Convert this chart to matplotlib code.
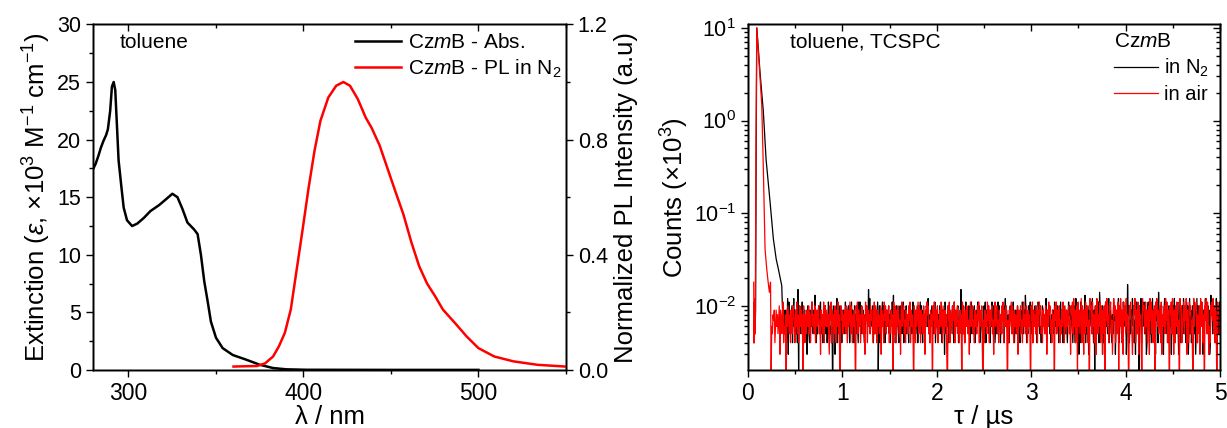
import numpy as np
import matplotlib.pyplot as plt
from matplotlib.ticker import MultipleLocator, LogLocator, NullFormatter

plt.rcParams['font.family'] = ['Liberation Sans', 'DejaVu Sans']
plt.rcParams['mathtext.fontset'] = 'custom'
plt.rcParams['mathtext.rm'] = 'Liberation Sans'
plt.rcParams['mathtext.it'] = 'Liberation Sans:italic'
plt.rcParams['mathtext.sf'] = 'Liberation Sans'

# absorption (epsilon, x10^3 M-1 cm-1)
abs_wl = [279.3, 281.5, 283.1, 284.5, 286, 287.5, 288.5, 289.8, 290.8, 291.8, 292.7, 293.7, 294.6,
          296.2, 297.5, 299.4, 302.3, 305.2, 309, 312.8, 317.6, 321.5, 325.3, 328.2, 331, 333.9,
          337.7, 339.7, 341.6, 343.5, 345.4, 347.3, 350.2, 354, 359.8, 367.4, 375.1, 382.8,
          390.4, 402, 450, 500]
abs_eps = [17.2, 17.9, 18.6, 19.3, 19.9, 20.4, 20.9, 22.5, 24.6, 25.0, 24.3, 21.1, 18.2,
           15.9, 14.1, 13.0, 12.5, 12.7, 13.2, 13.8, 14.3, 14.8, 15.3, 15.0, 14.0, 12.8,
           12.2, 11.8, 10.0, 7.7, 6.0, 4.2, 2.8, 1.9, 1.3, 0.9, 0.46, 0.17,
           0.06, 0.02, 0.01, 0.01]

# photoluminescence in N2 (normalized)
pl_wl = [360.2, 373.7, 378.2, 382.8, 386.1, 389.5, 392.9, 396.3, 399.7, 403, 406.4, 409.8, 414.3,
         418.8, 422.9, 426.7, 431.2, 435.7, 439.1, 443.6, 448.1, 452.6, 457.2, 461.7, 466.2,
         470.7, 475.2, 479.7, 486.5, 493.2, 500, 509, 520, 533.8, 549.6]
pl_int = [0.012, 0.014, 0.023, 0.047, 0.082, 0.129, 0.21, 0.35, 0.49, 0.63, 0.76, 0.865, 0.946,
          0.987, 1.0, 0.987, 0.94, 0.876, 0.84, 0.78, 0.70, 0.62, 0.54, 0.444, 0.36,
          0.30, 0.257, 0.21, 0.164, 0.117, 0.076, 0.047, 0.03, 0.018, 0.012]

# TCSPC decays (counts x10^3): rise + decay part
n2_t = [0.064, 0.068, 0.075, 0.082, 0.088, 0.095, 0.13, 0.164, 0.193, 0.235, 0.27, 0.30, 0.323, 0.359]
n2_c = [0.004, 0.011, 0.005, 0.009, 0.5, 10.0, 3.2, 1.25, 0.38, 0.133, 0.053, 0.032, 0.025, 0.0165]
air_t = [0.062, 0.066, 0.072, 0.078, 0.085, 0.094, 0.12, 0.147, 0.164, 0.182, 0.2, 0.215, 0.228]
air_c = [0.018, 0.004, 0.012, 0.005, 0.3, 10.0, 4.0, 1.48, 0.305, 0.041, 0.025, 0.018, 0.014]

# background counts (one base-36 character per bin)
n2_tail = (
    "7a589647c3b6857a48c697584f2a7958b64795683a754986b7596d84657a"
    "79b5864798a5746b9856471a98357c4896a57486957b6859a7468b5974a6"
    "85964b7b8a5796485a976f8c5976a4857968b26a4859b7a6485976a58496"
    "b7d5846a97548a6957b4896a58749a6857b469857a4968b5a7496857a96c"
    "58476a9857b4697586a58749693b7586a497568a94b75869a4758f69a574"
    "8b6975a847b5968a47596b8a4579615a7b4968a57496b85a746958b7a648"
    "597a48c6975846a7958b647956a8754986b7596d8465a79b5864798a5746"
    "b985647a98657c4896a57486957b6859a7468b5974a6859647b8a5796485"
    "a4c7958364b8a5796d4857a3968b5c7492a6857b4e9685a4739b6857c4a9"
    "6485b7a39685c47a9584b6a7935h8a47596c8a4738b5962a7c4869b5a734"
    "9b6a5847c59683a7b4e6958a4739c6b8574a9683b5a7c4958a63b7948a5c"
    "7594b8a36c5947a8b5936c4a8759b6a3948c7b5a6934d8a5b7946c3a85b7"
)
air_tail = (
    "i2658794696857a39857b4658196a7584965a87496b5847a69581a748597"
    "6a5847b9685a47968a5739685b4a7696853a7b49685a7496b5814a795869"
    "5a74968b5a7486951a7b596847a95863b7a49685a79648b5a7496857a396"
    "84b7a5968a4759681b5a7496a85739b68a5749685a7b496851a74968b5a7"
    "49685a7396b8a5749681a7b5968a47596b84a7596831a7b49685a7b4968a"
    "5749681b5a7496a85739b68a5749685a7b4968a51749685b7a4968a5739b"
    "68a5749685a7b4968a5174968b5a7496857a3968a5749b685a7496851a7b"
    "49685a7496b8a5749685a7396b8a5749681a7b5968a47596b84a75968a57"
    "3a8b5c6947a2b6958c4a7395b6a8471c9a5b6847a3c9586b4a7395a1b7c6"
    "84a9b5736c8a4957b2a6c8493b7a5c6841a9b7536a8c4957b3a6841c9a75"
    "b6948a3c7b5946a1b8c6957a4b3869a5c7b4961a8b5c7394a6b8571c9a46"
    "8b5a7c3964b8a5731c6a9b4875a3c6b9481a7c5b9364a8b7c5a4961b8a57"
)

n2_tail_c = np.array([int(ch, 36) for ch in n2_tail]) / 1000.0
air_tail_c = np.array([int(ch, 36) for ch in air_tail]) / 1000.0
n2_x = np.concatenate([n2_t, np.linspace(0.37, 5.0, len(n2_tail_c))])
n2_y = np.concatenate([n2_c, n2_tail_c])
air_x = np.concatenate([air_t, np.linspace(0.24, 5.0, len(air_tail_c))])
air_y = np.concatenate([air_c, air_tail_c])

fs_xtick = 16.5
fs_ytick = 15.5
fs_lab = 18.5
fs_leg = 15

fig = plt.figure(figsize=(12.27, 4.28), dpi=100)

# ---- left panel: absorption + PL
ax1 = fig.add_axes([0.0758, 0.1355, 0.3855, 0.8075])
l1, = ax1.plot(abs_wl, abs_eps, color='k', lw=1.8, label='Cz$m$B - Abs.')
ax1.set_xlim(280, 550)
ax1.set_ylim(0, 30)
ax1.xaxis.set_major_locator(MultipleLocator(100))
ax1.xaxis.set_minor_locator(MultipleLocator(50))
ax1.yaxis.set_major_locator(MultipleLocator(5))
ax1.yaxis.set_minor_locator(MultipleLocator(2.5))
ax1.tick_params(which='both', direction='out', width=1.0)
ax1.tick_params(axis='x', labelsize=fs_xtick)
ax1.tick_params(axis='y', labelsize=fs_ytick)
ax1.tick_params(which='major', length=5)
ax1.tick_params(which='minor', length=3)
ax1.set_xlabel('λ / nm', fontsize=fs_lab, labelpad=0)
ax1.set_ylabel('Extinction ($\\varepsilon$, ×10$^3$ M$^{-1}$ cm$^{-1}$)', fontsize=fs_lab, labelpad=3)
ax1.text(0.057, 0.949, 'toluene', transform=ax1.transAxes, fontsize=fs_leg, va='center')

ax1t = ax1.twiny()
ax1t.set_xlim(280, 550)
ax1t.xaxis.set_major_locator(MultipleLocator(100))
ax1t.xaxis.set_minor_locator(MultipleLocator(50))
ax1t.tick_params(which='both', direction='in', labeltop=False, width=1.0)
ax1t.tick_params(which='major', length=5)
ax1t.tick_params(which='minor', length=3)

ax2 = ax1.twinx()
l2, = ax2.plot(pl_wl, pl_int, color='#ff0000', lw=1.8, label='Cz$m$B - PL in N$_2$')
ax2.set_ylim(0, 1.2)
ax2.yaxis.set_major_locator(MultipleLocator(0.4))
ax2.yaxis.set_minor_locator(MultipleLocator(0.2))
ax2.yaxis.set_major_formatter(plt.FuncFormatter(lambda v, p: f'{v:.1f}'))
ax2.tick_params(which='both', direction='out', labelsize=fs_ytick, width=1.0)
ax2.tick_params(which='major', length=5)
ax2.tick_params(which='minor', length=3)
ax2.set_ylabel('Normalized PL Intensity (a.u)', fontsize=fs_lab, labelpad=4)
for a in (ax1, ax1t, ax2):
    for s in a.spines.values():
        s.set_linewidth(1.0)
ax2.legend(handles=[l1, l2], loc='upper right', bbox_to_anchor=(0.99, 0.975), frameon=False,
           fontsize=fs_leg, borderpad=0, borderaxespad=0, handlelength=2.2,
           handletextpad=0.35, labelspacing=0.25)

# ---- right panel: TCSPC decay
ax3 = fig.add_axes([0.6095, 0.1355, 0.3848, 0.8075])
ax3.plot(n2_x, n2_y, color='k', lw=0.9, label='in N$_2$')
ax3.plot(air_x, air_y, color='#ff0000', lw=0.9, label='in air')
ax3.set_yscale('log')
ax3.set_xlim(0, 5)
ax3.set_ylim(0.00203, 10.9)
ax3.xaxis.set_major_locator(MultipleLocator(1))
ax3.xaxis.set_minor_locator(MultipleLocator(0.5))
ax3.yaxis.set_major_locator(LogLocator(base=10, numticks=10))
ax3.yaxis.set_minor_locator(LogLocator(base=10, subs=np.arange(2, 10), numticks=10))
ax3.yaxis.set_minor_formatter(NullFormatter())
ax3.tick_params(which='both', direction='out', width=1.0)
ax3.tick_params(axis='x', labelsize=fs_xtick)
ax3.tick_params(axis='y', labelsize=fs_ytick)
ax3.tick_params(which='major', length=5)
ax3.tick_params(which='minor', length=3)

# inward ticks on the top and right frame
ax3r = ax3.twinx()
ax3r.set_yscale('log')
ax3r.set_ylim(0.00203, 10.9)
ax3r.yaxis.set_major_locator(LogLocator(base=10, numticks=10))
ax3r.yaxis.set_minor_locator(LogLocator(base=10, subs=np.arange(2, 10), numticks=10))
ax3r.tick_params(which='both', direction='in', labelright=False, width=1.0)
ax3r.tick_params(which='major', length=5)
ax3r.tick_params(which='minor', length=3)
ax3t = ax3.twiny()
ax3t.set_xlim(0, 5)
ax3t.xaxis.set_major_locator(MultipleLocator(1))
ax3t.xaxis.set_minor_locator(MultipleLocator(0.5))
ax3t.tick_params(which='both', direction='in', labeltop=False, width=1.0)
ax3t.tick_params(which='major', length=5)
ax3t.tick_params(which='minor', length=3)
for a in (ax3, ax3r, ax3t):
    for s in a.spines.values():
        s.set_linewidth(1.0)

ax3.set_xlabel('τ / µs', fontsize=fs_lab, labelpad=0)
ax3.set_ylabel('Counts (×10$^3$)', fontsize=fs_lab, labelpad=2)
ax3.text(0.089, 0.949, 'toluene, TCSPC', transform=ax3.transAxes, fontsize=fs_leg, va='center')
ax3t.legend(handles=ax3.get_lines(), loc='upper left', bbox_to_anchor=(0.775, 0.978), frameon=False,
            title='Cz$m$B', fontsize=14.5, title_fontsize=15, borderpad=0, borderaxespad=0,
            handlelength=2.2, handletextpad=0.3, labelspacing=0.3, alignment='left')

fig.savefig('out.png', dpi=100)
